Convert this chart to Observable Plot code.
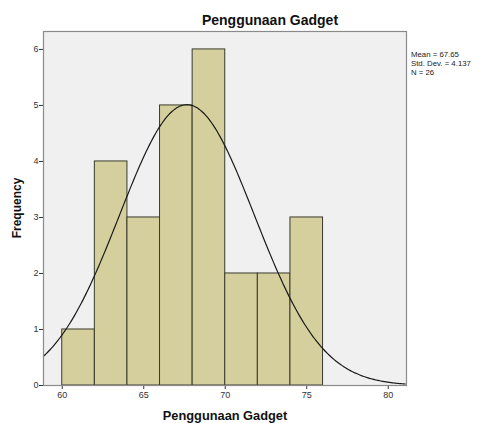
<!DOCTYPE html>
<html><head><meta charset="utf-8">
<script src="https://cdn.jsdelivr.net/npm/d3@7"></script>
<script src="https://cdn.jsdelivr.net/npm/@observablehq/plot@0.6"></script>
<style>body{margin:0;background:#fff;font-family:"Liberation Sans",Arial,sans-serif}</style>
</head><body><div id="chart"></div>
<script>
const binStarts = [60, 62, 64, 66, 68, 70, 72, 74];
const binWidth = 2;
const frequencies = [1, 4, 3, 5, 6, 2, 2, 3];
const mean = 67.65, stdDev = 4.137, n = 26;
const xTicks = [60, 65, 70, 75, 80];
const yTicks = [0, 1, 2, 3, 4, 5, 6];

const bars = binStarts.map((s, i) => ({x1: s, x2: s + binWidth, y: frequencies[i]}));
const xMin = 58.85, xMax = 81.12;
const curve = d3.range(xMin, xMax + 0.001, 0.1).map(x => ({
  x, y: n * binWidth / (stdDev * Math.sqrt(2 * Math.PI)) * Math.exp(-0.5 * ((x - mean) / stdDev) ** 2)
}));

const W = 482, H = 423, ml = 43, mr = 76, mt = 31, mb = 38;
const chart = Plot.plot({
  width: W, height: H,
  marginLeft: ml, marginRight: mr, marginTop: mt, marginBottom: mb,
  style: {fontFamily: '"Liberation Sans", Arial, sans-serif', fontSize: "9px", color: "#333", background: "#fff"},
  x: {domain: [xMin, xMax], ticks: xTicks, tickFormat: "d", tickSize: 4, tickPadding: 2, label: null},
  y: {domain: [0, 6.32], ticks: yTicks, tickFormat: "d", tickSize: 4, tickPadding: 1, label: null},
  marks: [
    Plot.frame({fill: "#f0f0f0", stroke: null}),
    Plot.rect(bars, {x1: "x1", x2: "x2", y1: 0, y2: "y", fill: "#d4cf9c", stroke: "#3b3a2e", strokeWidth: 1}),
    Plot.line(curve, {x: "x", y: "y", stroke: "#1a1a1a", strokeWidth: 1.2, curve: "basis"}),
    Plot.frame({stroke: "#8a8a8a", strokeWidth: 1.2})
  ]
});
document.getElementById("chart").appendChild(chart);
const svg = d3.select(chart);
svg.append("text").attr("x", 270).attr("y", 25).attr("text-anchor", "middle")
  .attr("font-size", 14).attr("font-weight", "bold").attr("fill", "#111").text("Penggunaan Gadget");
svg.append("text").attr("x", 225).attr("y", 420).attr("text-anchor", "middle")
  .attr("font-size", 12.8).attr("font-weight", "bold").attr("fill", "#111").text("Penggunaan Gadget");
svg.append("text").attr("transform", "translate(21,208) rotate(-90)").attr("text-anchor", "middle")
  .attr("font-size", 12).attr("font-weight", "bold").attr("fill", "#111").text("Frequency");
const legend = [`Mean = ${mean}`, `Std. Dev. = ${stdDev}`, `N = ${n}`];
legend.forEach((t, i) => svg.append("text").attr("x", 411).attr("y", 57 + i * 9)
  .attr("text-anchor", "start").attr("font-size", 7.8).attr("fill", "#222").text(t));
</script></body></html>
